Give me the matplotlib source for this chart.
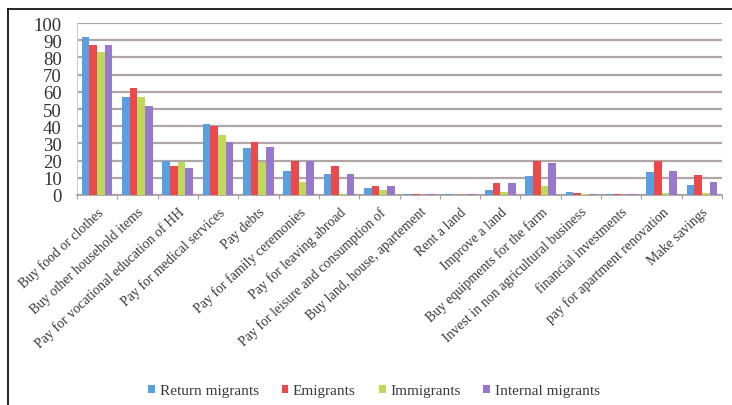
import matplotlib
matplotlib.use("Agg")
import matplotlib.pyplot as plt
import numpy as np
from matplotlib.lines import Line2D

categories = [
    "Buy food or clothes", "Buy other household items",
    "Pay for vocational education of HH", "Pay for medical services",
    "Pay debts", "Pay for family ceremonies", "Pay for leaving abroad",
    "Pay for leisure and consumption of", "Buy land, house, apartement",
    "Rent a land", "Improve a land", "Buy equipments for the farm",
    "Invest in non agricultural business", "financial investments",
    "pay for apartment renovation", "Make savings",
]
series_names = ["Return migrants", "Emigrants", "Immigrants", "Internal migrants"]
return_migrants = [92, 57, 20, 41, 27.5, 14, 12, 4, 0.5, 0.3, 3, 11, 2, 0.3, 13.5, 5.8]
emigrants = [87, 62, 17, 40, 31, 20, 17, 5, 0.3, 0.2, 7, 20, 1, 0.3, 20, 11.6]
immigrants = [83, 57, 19, 35, 19, 7.5, 0.5, 3, 0.2, 0.2, 1.5, 5.4, 0.5, 0.2, 1, 1]
internal_migrants = [87, 52, 15.5, 31, 28, 20, 12, 5, 0.3, 0.3, 7, 18.6, 0.5, 0.3, 13.8, 7.7]
y_ticks = [0, 10, 20, 30, 40, 50, 60, 70, 80, 90, 100]

colors = ["#5aa0e0", "#ec4a4a", "#bed85c", "#9878cc"]
serif = ["Liberation Serif", "DejaVu Serif"]

fig = plt.figure(figsize=(7.32, 4.06), dpi=100)
ax = fig.add_axes([77 / 732, 1 - 196 / 406, 645 / 732, (196 - 24) / 406])

x = np.arange(len(categories))
bw = 0.19
data = [return_migrants, emigrants, immigrants, internal_migrants]
for i, (vals, name, c) in enumerate(zip(data, series_names, colors)):
    ax.bar(x + (i - 1.5) * bw, vals, width=bw, color=c, label=name, zorder=3)

ax.set_xlim(-0.5, len(categories) - 0.5)
ax.set_ylim(0, 100)
ax.set_yticks(y_ticks)
ax.set_yticklabels([str(v) for v in y_ticks], family=serif, fontsize=13.5,
                   color="#333333")
ax.tick_params(axis="y", length=0, pad=11)
ax.yaxis.grid(True, color="#b0a6a6", lw=1.6, zorder=0)
ax.set_axisbelow(True)

ax.set_xticks(np.arange(len(categories) + 1) - 0.5)
ax.set_xticklabels([])
ax.tick_params(axis="x", which="major", length=3, color="#a89c9c")
ax.set_xticks(x, minor=True)
ax.set_xticklabels(categories, minor=True, rotation=43, ha="right", va="top",
                   rotation_mode="anchor", family=serif, fontsize=10, color="#3a3a3a")
ax.tick_params(axis="x", which="minor", length=0, pad=7)

for s in ["top", "right"]:
    ax.spines[s].set_visible(False)
ax.spines["bottom"].set_color("#a89c9c")
ax.spines["bottom"].set_linewidth(1.2)
ax.spines["left"].set_color("#d0cccc")
ax.spines["left"].set_linewidth(0.8)

leg = fig.legend(loc="center", bbox_to_anchor=(374 / 732, 1 - 392 / 406), ncol=4,
                 frameon=False, prop={"family": serif, "size": 11},
                 handlelength=0.45, handleheight=0.45, handletextpad=0.3,
                 columnspacing=1.5)
for t in leg.get_texts():
    t.set_color("#3a3a3a")

fig.add_artist(Line2D([8 / 732, 1], [1 - 10 / 406, 1 - 10 / 406], color="black", lw=1.2))
fig.add_artist(Line2D([8 / 732, 8 / 732], [0, 1 - 10 / 406], color="black", lw=1.2))

fig.savefig("out.png", dpi=100)
